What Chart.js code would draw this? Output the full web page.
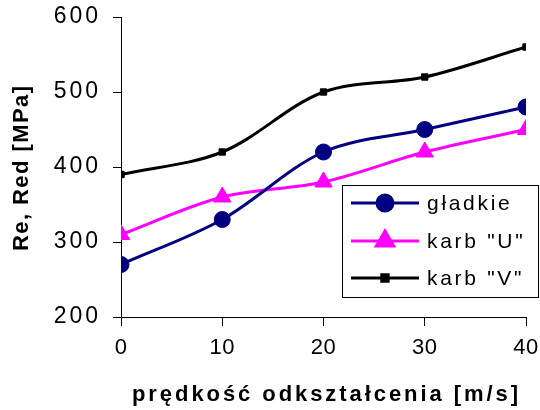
<!DOCTYPE html>
<html>
<head>
<meta charset="utf-8">
<script src="https://cdn.jsdelivr.net/npm/chart.js@4"></script>
<style>
  html, body { margin: 0; padding: 0; background: #fff; }
  #wrap { width: 540px; height: 410px; position: relative; }
</style>
</head>
<body>
<div id="wrap"><canvas id="chart" width="540" height="410"></canvas></div>
<script>
const speeds = [0, 10, 20, 30, 40];
const gladkie = [270, 330, 420, 450, 480];
const karbU = [310, 360, 380, 420, 450];
const karbV = [390, 420, 500, 520, 560];
const seriesNames = ['gładkie', 'karb "U"', 'karb "V"'];
const xTitle = 'prędkość odkształcenia [m/s]';
const yTitle = 'Re, Red [MPa]';

const FONT = '"Liberation Sans", Arial, sans-serif';

function pts(vals) {
  return speeds.map((s, i) => ({ x: s, y: vals[i] }));
}

// draw text left-aligned from x, spread so it spans about width
function fitText(ctx, text, x, y, width) {
  ctx.letterSpacing = '0px';
  const w = ctx.measureText(text).width;
  const sp = Math.max(0, (width - w) / (text.length - 1));
  ctx.letterSpacing = sp + 'px';
  ctx.fillText(text, x, y);
  ctx.letterSpacing = '0px';
}

const textPlugin = {
  id: 'textPlugin',
  beforeDraw(chart) {
    const ctx = chart.ctx;
    ctx.letterSpacing = '0.5px';
    const ys = chart.scales.y;
    if (!ys._patched) {
      const orig = ys.drawLabels;
      ys.drawLabels = function (area) {
        ctx.save();
        ctx.letterSpacing = '3px';
        orig.call(this, area);
        ctx.restore();
      };
      ys._patched = true;
    }
  },
  afterDraw(chart) {
    const ctx = chart.ctx;
    ctx.save();
    ctx.fillStyle = '#000';
    ctx.textBaseline = 'alphabetic';
    ctx.textAlign = 'left';
    ctx.font = 'bold 22px ' + FONT;
    fitText(ctx, xTitle, 132, 401, 386);

    ctx.save();
    ctx.translate(28, 251);
    ctx.rotate(-Math.PI / 2);
    fitText(ctx, yTitle, 0, 0, 165);
    ctx.restore();

    // legend box inside the plot
    const bx = 342, by = 185, bw = 196, bh = 112;
    ctx.fillStyle = '#fff';
    ctx.fillRect(bx, by, bw, bh);
    ctx.strokeStyle = '#000';
    ctx.lineWidth = 1;
    ctx.strokeRect(bx + 0.5, by + 0.5, bw, bh);

    const rowsY = [203, 241, 278];
    chart.data.datasets.forEach((ds, i) => {
      const y = rowsY[i];
      ctx.strokeStyle = ds.borderColor;
      ctx.lineWidth = ds.borderWidth;
      ctx.beginPath();
      ctx.moveTo(351, y);
      ctx.lineTo(419, y);
      ctx.stroke();
      ctx.fillStyle = ds.pointBackgroundColor;
      ctx.strokeStyle = ds.pointBorderColor;
      Chart.helpers.drawPoint(ctx, {
        pointStyle: ds.pointStyle,
        radius: ds.pointRadius,
        borderWidth: 1,
        rotation: 0
      }, 385, y);
      ctx.fillStyle = '#000';
      ctx.textAlign = 'left';
      ctx.textBaseline = 'middle';
      ctx.font = '21px ' + FONT;
      ctx.letterSpacing = '2.7px';
      ctx.fillText(seriesNames[i], 427, y + 1);
      ctx.letterSpacing = '0px';
    });
    ctx.restore();
  }
};

function mkSet(label, vals, color, style, radius) {
  return {
    label: label,
    data: pts(vals),
    borderColor: color,
    backgroundColor: color,
    pointBackgroundColor: color,
    pointBorderColor: color,
    pointBorderWidth: 1,
    borderWidth: 3,
    pointStyle: style,
    pointRadius: radius,
    pointHoverRadius: radius,
    tension: 0.33,
    fill: false
  };
}

new Chart(document.getElementById('chart'), {
  type: 'line',
  data: {
    datasets: [
      mkSet(seriesNames[0], gladkie, '#000080', 'circle', 8),
      mkSet(seriesNames[1], karbU, '#FF00FF', 'triangle', 10),
      mkSet(seriesNames[2], karbV, '#000000', 'rect', 4.5)
    ]
  },
  options: {
    responsive: false,
    animation: false,
    events: [],
    layout: { padding: { left: 0, top: 17, right: 14, bottom: 0 } },
    plugins: {
      legend: { display: false },
      tooltip: { enabled: false },
      title: { display: false }
    },
    scales: {
      x: {
        type: 'linear',
        min: 0,
        max: 40,
        afterFit(scale) {
          scale.height = 93;
          scale.paddingLeft = 0;
          scale.paddingRight = 0;
        },
        border: { color: '#000', width: 1 },
        grid: { drawOnChartArea: false, tickLength: 9, color: '#000' },
        ticks: {
          stepSize: 10,
          color: '#000',
          padding: 9,
          font: { family: FONT, size: 22 }
        }
      },
      y: {
        min: 200,
        max: 600,
        afterFit(scale) {
          scale.width = 121;
          scale.paddingTop = 0;
          scale.paddingBottom = 0;
        },
        border: { color: '#000', width: 1 },
        grid: { drawOnChartArea: false, tickLength: 8, color: '#000' },
        ticks: {
          stepSize: 100,
          color: '#000',
          padding: 12,
          font: { family: FONT, size: 23 }
        }
      }
    }
  },
  plugins: [textPlugin]
});
</script>
</body>
</html>
